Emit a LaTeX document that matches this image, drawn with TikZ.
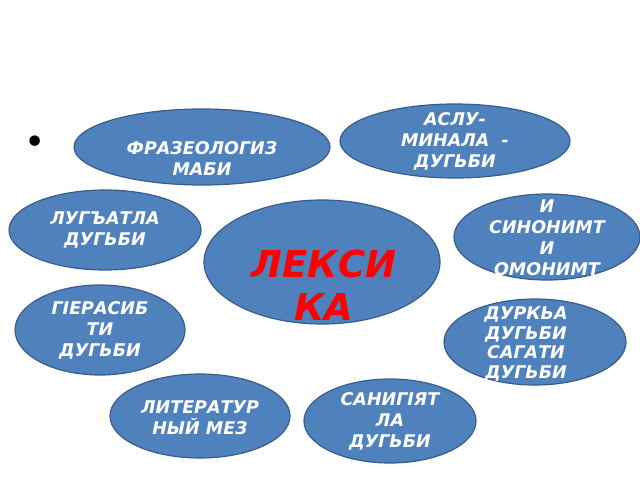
\documentclass[tikz,border=0pt]{standalone}
\usepackage{fontspec}
\setmainfont{DejaVu Sans}
\usetikzlibrary{shapes.geometric,positioning}
\definecolor{blobfill}{HTML}{4F81BD}
\definecolor{blobline}{HTML}{385D8A}
\definecolor{lexred}{HTML}{FF0000}

\begin{document}
\begin{tikzpicture}[
    x = 1pt, y = -1pt, % pixel grid, y down
    line width = 1.2pt
    ]

    \tikzset{blob/.style={
    ellipse,
    draw = blobline,
    fill = blobfill,
    inner sep = 0pt
    },
    caption/.style={
    text = white,
    align = center,
    inner sep = 0pt,
    font = \bfseries\itshape\fontsize{17.5}{21}\selectfont
    }}
    \useasboundingbox (0,0) rectangle (640,480);

    \node[inner sep=0pt] (dot) at (35,145) {\fontsize{36}{36}\selectfont •};

    % the ellipses
    \node[blob, minimum width=256, minimum height=76] (frz) at (202,147) {};
    \node[blob, minimum width=230, minimum height=74] (aslu) at (455,141) {};
    \node[blob, minimum width=192, minimum height=80] (lug) at (105,230) {};
    \node[blob, minimum width=236, minimum height=124] (lex) at (322,262) {};
    \node[blob, minimum width=186, minimum height=86] (syn) at (547,237) {};
    \node[blob, minimum width=170, minimum height=90] (gier) at (100,330) {};
    \node[blob, minimum width=182, minimum height=86] (durk) at (535,342) {};
    \node[blob, minimum width=180, minimum height=84] (lit) at (200,416) {};
    \node[blob, minimum width=172, minimum height=84] (san) at (390,421) {};

    % the texts
    \node[caption] (frzT) at ([yshift=-12]frz.center) {ФРАЗЕОЛОГИЗ\\МАБИ};
    \node[caption] (asluT) at (aslu.center) {АСЛУ-\\МИНАЛА~~-\\ДУГЬБИ};
    \node[caption] (lugT) at (lug.center) {ЛУГЪАТЛА\\ДУГЬБИ};
    \node[caption, text=lexred, font=\bfseries\itshape\fontsize{37}{43}\selectfont]
        (lexT) at ([yshift=-23,xshift=2]lex.center) {ЛЕКСИ\\КА};
    \node[caption] (synT) at ([yshift=-1]syn.center) {И\\СИНОНИМТ\\И\\ОМОНИМТ};
    \node[caption] (gierT) at (gier.center) {ГІЕРАСИБ\\ТИ\\ДУГЬБИ};
    \node[caption, font=\bfseries\itshape\fontsize{17.5}{19.5}\selectfont]
        (durkT) at ([xshift=-9,yshift=-2]durk.center) {ДУРКЬА\\ДУГЬБИ\\САГАТИ\\ДУГЬБИ};
    \node[caption] (litT) at ([yshift=-2]lit.center) {ЛИТЕРАТУР\\НЫЙ МЕЗ};
    \node[caption] (sanT) at (san.center) {САНИГІЯТ\\ЛА\\ДУГЬБИ};
\end{tikzpicture}
\end{document}
